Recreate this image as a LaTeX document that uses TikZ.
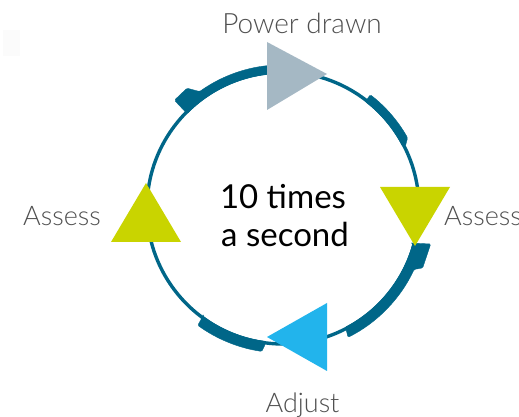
\documentclass[tikz,border=0pt]{standalone}
\usepackage{fontspec}
\setmainfont{Lato}[UprightFont=* Light]
\newfontfamily\centerfont{Lato}
\definecolor{teal}{HTML}{006688}
\definecolor{greytri}{HTML}{A5B8C4}
\definecolor{limetri}{HTML}{C9D400}
\definecolor{bluetri}{HTML}{22B4EC}
\definecolor{labelgrey}{HTML}{505050}
\tikzset{
  band/.style={fill=teal,draw=teal,line width=0.4pt,line join=round,rounded corners=1.2pt},
  tri/.style={draw=none},
  lbl/.style={inner sep=0pt,text=labelgrey,font=\fontsize{27}{27}\selectfont,anchor=base},
  mid/.style={inner sep=0pt,text=black,font=\centerfont\fontsize{33}{33}\selectfont,anchor=base}
}
\begin{document}
\begin{tikzpicture}[x=1pt,y=1pt]
\useasboundingbox (0,0) rectangle (519,417);
\fill[white] (0,0) rectangle (519,417);
\fill[black!1.5] (3,361) rectangle (20,387);
\begin{scope}[shift={(283,209)}]
  \draw[teal,line width=3.4pt] (0,0) circle[radius=136];
  \fill[band] (96:134.5) arc[start angle=96,end angle=135.5,radius=134.5]
     -- (135.2:153) -- (128.7:153.5) -- (125.6:143.2)
     arc[start angle=125.6,end angle=96,radius=143.2] -- cycle;
  \fill[band] (52.2:134.5) -- (52.4:143) arc[start angle=52.4,end angle=29.4,radius=143]
     -- (27:137.5) -- (27:134.5) arc[start angle=27,end angle=52.2,radius=134.5] -- cycle;
  \fill[band] (-15.2:134) -- (-13.7:152) -- (-23.2:152) -- (-25.1:144.8)
     arc[start angle=-25.1,end angle=-63.3,radius=144.8] -- (-62.7:138.5) -- (-62.5:134.5)
     arc[start angle=-62.5,end angle=-15.2,radius=134.5] -- cycle;
  \fill[band] (233.5:134.5) -- (234:145) arc[start angle=234,end angle=261.6,radius=145]
     -- (262.5:138) -- (262.5:134.5) arc[start angle=262.5,end angle=233.5,radius=134.5] -- cycle;
\end{scope}
\fill[greytri,tri] (267,375) -- (267,307) -- (327,343) -- cycle;
\fill[limetri,tri] (380,230) -- (450,230) -- (415,171) -- cycle;
\fill[bluetri,tri] (267,80) -- (327,114) -- (327,46) -- cycle;
\fill[limetri,tri] (146,234) -- (111,175) -- (181,175) -- cycle;
\node[lbl,font=\fontsize{28}{28}\selectfont] (power) at (302,383) {Power drawn};
\node[lbl,anchor=base west] (assessR) at (444,191.5) {Assess};
\node[lbl,anchor=base west] (assessL) at (23,191.5) {Assess};
\node[lbl] (adjust) at (302.5,4) {Adjust};
\node[mid] (ten) at (283,208) {10 times};
\node[mid] (sec) at (285,170) {a second};
\end{tikzpicture}
\end{document}
